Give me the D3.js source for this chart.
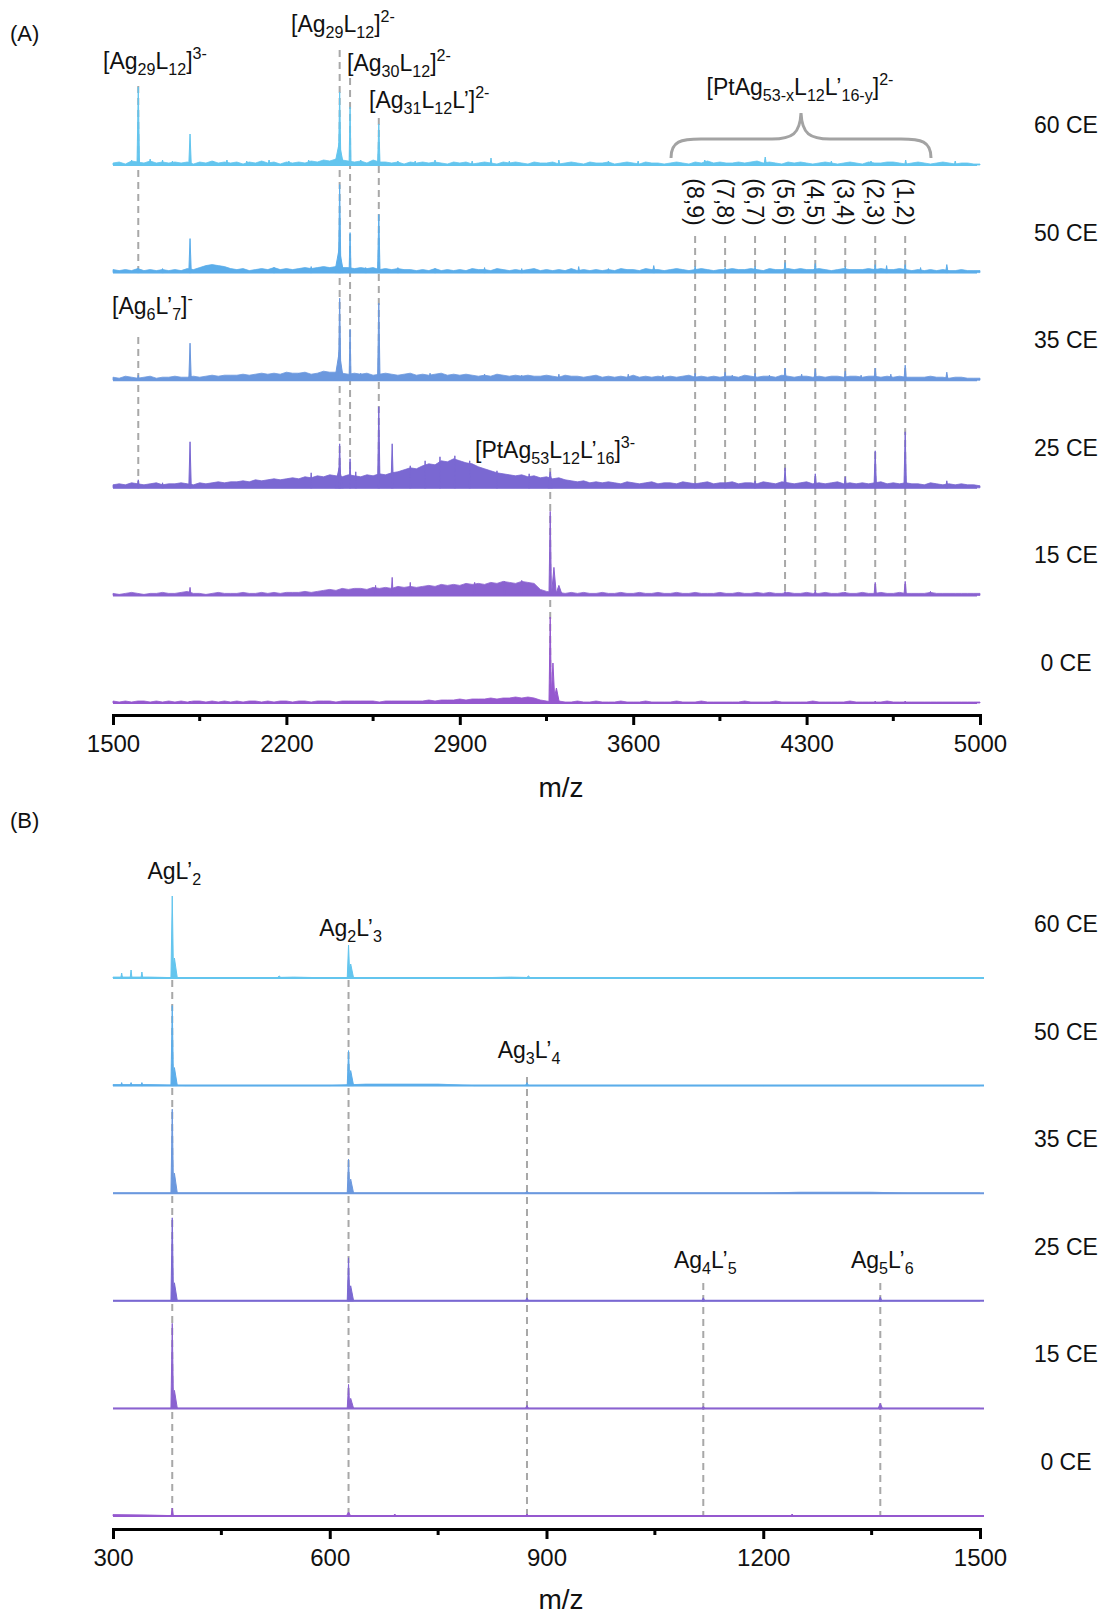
<!DOCTYPE html>
<html><head><meta charset="utf-8">
<script src="https://cdn.jsdelivr.net/npm/d3@7"></script>
<style>
body{margin:0;background:#fff;}
svg text{font-family:"Liberation Sans",Arial,Helvetica,sans-serif;fill:#111;}
</style></head>
<body><svg id="chart" width="1104" height="1614"></svg>
<script>
// ---------- DATA ----------
const ceLevels = ["60 CE","50 CE","35 CE","25 CE","15 CE","0 CE"];
const ceColors = ["#63c5ee","#5badea","#6b98de","#7a68d2","#8a62d0","#9558cf"];

// Panel A (m/z 1500-5000)
const mzTicksA = [1500,2200,2900,3600,4300,5000];
const mzMinorA = [1850,2550,3250,3950,4650];
// noise floor read every 25 m/z from 1500 to 5000 (relative intensity)
const noiseA60 = [2,3,1,4,3,2,4,2,3,2, 3,2,3,1,3,2,4,2,3,2, 3,1,3,2,4,2,3,1,3,2, 3,2,4,3,5,4,6,5,4,3,
  4,2,5,3,3,2,3,1,3,2, 3,2,3,2,1,3,2,3,1,2, 3,2,1,3,2,3,2,1,3,2, 2,3,1,2,3,2,1,3,2,2,
  3,1,2,3,2,1,3,2,2,1, 2,3,2,1,3,2,4,2,3,2, 2,3,2,3,4,2,3,2,1,3, 2,3,2,1,2,3,2,1,2,3,
  2,1,3,2,2,3,3,2,1,2, 3,2,1,2,3,2,1,2,2,1, 1];
const noiseA50 = [3,2,3,2,4,2,3,2,3,2, 3,2,4,3,5,7,8,7,6,4, 3,4,2,3,4,3,5,3,4,3, 4,5,4,5,6,5,6,5,5,4,
  5,4,5,3,4,3,4,3,3,2, 3,2,4,2,3,2,3,2,4,3, 3,2,4,3,2,3,2,3,4,2, 3,2,3,2,4,2,3,2,3,2,
  3,2,4,3,3,2,4,3,3,2, 3,4,3,2,3,4,3,2,3,3, 4,3,3,4,3,2,4,3,3,4, 3,4,3,3,4,3,2,3,4,3,
  3,3,4,3,4,3,3,4,3,2, 3,2,3,2,3,2,2,3,2,2, 2];
const noiseA35 = [3,2,4,3,2,3,4,2,3,3, 4,3,3,4,3,4,5,4,5,5, 5,6,5,6,7,6,7,6,8,7, 7,8,6,7,9,8,8,7,6,7,
  6,7,5,6,7,6,5,6,7,5, 6,5,6,7,5,6,5,6,5,4, 5,4,6,5,4,5,4,5,4,4, 5,4,3,5,4,4,3,4,5,3,
  4,3,4,3,5,3,4,3,4,3, 4,3,4,5,3,4,3,4,3,4, 4,3,5,4,3,4,4,3,5,4, 3,4,4,3,4,3,4,4,3,4,
  4,3,4,4,3,4,3,4,3,3, 3,3,4,3,3,2,3,3,2,2, 2];
const noiseA25 = [3,4,3,5,4,3,4,5,3,4, 4,5,4,3,5,4,5,6,5,6, 6,7,6,8,7,8,9,8,9,10, 9,11,10,12,11,13,12,11,13,12,
  11,13,12,14,13,15,16,18,20,19, 22,24,23,27,26,29,27,25,24,21, 19,17,15,14,13,12,13,11,12,10, 11,9,10,8,7,6,7,5,6,5,
  6,5,4,6,5,4,5,6,4,5, 5,4,6,5,4,5,6,4,5,5, 6,4,5,5,4,6,5,4,6,5, 4,5,6,4,5,4,5,6,4,5,
  4,5,4,5,6,4,5,4,5,4, 4,3,5,4,3,4,3,4,3,3, 2];
const noiseA15 = [2,1,2,3,2,1,2,2,3,2, 2,3,4,2,2,1,2,3,2,2, 2,3,2,2,3,2,3,2,3,3, 3,4,3,4,5,6,5,7,6,7,
  7,6,8,7,8,7,9,8,9,8, 9,10,9,11,10,11,10,12,11,12, 11,13,12,14,13,12,14,13,12,6, 4,3,3,2,3,2,3,2,2,3,
  2,2,3,2,2,3,2,2,3,2, 2,3,2,2,3,2,2,2,3,2, 2,3,2,2,3,2,3,2,2,3, 2,2,3,2,2,3,2,2,3,2,
  2,3,2,2,3,2,2,3,2,2, 2,2,3,2,2,2,2,2,2,2, 2];
const noiseA0  = [2,1,2,1,2,2,1,2,1,2, 1,2,1,2,2,1,2,1,2,1, 2,1,2,2,1,2,1,2,2,1, 2,2,1,2,2,2,1,2,2,2,
  2,2,2,1,2,2,2,2,2,2, 2,3,2,3,3,3,4,3,4,4, 4,5,4,5,5,6,5,6,5,3, 2,1,2,1,1,2,1,1,2,1,
  1,1,2,1,1,1,2,1,1,1, 1,2,1,1,1,2,1,1,1,1, 1,1,2,1,1,1,1,2,1,1, 1,1,1,2,1,1,1,1,1,2,
  1,1,1,1,1,2,1,1,1,1, 1,1,1,1,1,1,1,1,1,1, 1];
// peaks: [m/z, relative intensity, half width in m/z]
const peaksA60 = [[1575,5,4],[1602,78,5],[1650,6,4],[1700,5,4],[1740,4,4],[1811,31,5],[1905,4,4],[1960,5,4],[2040,4,4],[2130,5,4],[2210,4,4],[2290,5,4],[2350,4,4],[2413,22,18],[2415,73,5],[2457,58,4],[2500,5,4],[2540,4,4],[2573,41,5],[2650,4,4],[2720,4,4],[2800,5,4],[2950,4,4],[3026,7,4],[3100,4,4],[3300,5,4],[3500,4,4],[3620,4,4],[3889,5,5],[4133,8,5],[4400,4,4],[4560,4,4],[4700,5,4],[4900,4,4]];
const peaksA50 = [[1602,4,4],[1700,4,4],[1811,34,5],[2150,5,4],[2300,6,4],[2413,24,18],[2415,88,5],[2457,40,4],[2520,5,4],[2573,58,5],[2650,5,4],[2800,4,4],[3000,5,4],[3150,4,4],[3380,6,4],[3500,4,4],[3683,7,5],[3850,6,5],[3971,5,5],[4092,6,5],[4213,10,5],[4335,9,5],[4456,6,5],[4577,8,5],[4623,7,4],[4698,8,5],[4760,5,4],[4866,8,5]];
const peaksA35 = [[1602,5,4],[1811,37,5],[2100,6,4],[2250,7,4],[2413,28,18],[2415,82,5],[2457,51,4],[2500,7,4],[2573,77,5],[2700,6,4],[2780,7,4],[3000,6,4],[3150,5,4],[3300,6,4],[3580,6,4],[3720,5,4],[3850,7,5],[3971,8,5],[4000,5,4],[4092,7,5],[4150,5,4],[4213,12,5],[4280,6,4],[4335,11,5],[4456,9,5],[4520,5,4],[4577,12,5],[4640,6,4],[4698,15,5],[4866,8,5]];
const peaksA25 = [[1602,8,4],[1700,5,4],[1811,46,5],[2300,15,4],[2413,20,18],[2415,44,5],[2457,29,4],[2480,16,4],[2573,81,5],[2627,44,5],[2700,22,4],[2760,27,4],[2820,31,4],[2880,32,4],[2940,27,4],[3050,17,4],[3180,14,4],[3265,16,10],[3850,5,5],[3971,5,5],[4092,7,5],[4213,20,5],[4335,14,5],[4456,11,5],[4577,37,5],[4698,56,5],[4866,7,5]];
const peaksA15 = [[1811,8,4],[2560,10,4],[2627,18,4],[2700,13,4],[2960,13,4],[3080,14,4],[3150,15,4],[3265,84,5],[3280,28,10],[3300,10,14],[4213,4,5],[4335,5,5],[4456,3,5],[4577,13,5],[4698,14,5],[4800,4,4]];
const peaksA0  = [[1811,2,4],[3265,86,5],[3276,40,8],[3290,15,12],[4577,2,4],[4698,2,4]];
// PtAg53-x L12 L'16-y series positions, (1,2) ... (8,9)
const seriesMz = [4698,4577,4456,4335,4213,4092,3971,3850];
const seriesTags = ["(1,2)","(2,3)","(3,4)","(4,5)","(5,6)","(6,7)","(7,8)","(8,9)"];

// Panel B (m/z 300-1500)
const mzTicksB = [300,600,900,1200,1500];
const mzMinorB = [450,750,1050,1350];
const noiseB60 = [1,1,0,0,0,1,0,0,0,0, 0,1,0,0,0,0,0,0,0,0, 0,0,0,0,0];
const noiseB50 = [1,1,0,0,0,0,0,1.5,1.5,1.5, 0,0,0,0,0,0,0,0,0,0, 0,0,0,0,0];
const noiseB35 = [0,0,0,0,0,0,0,0,0,0, 0,0,0,0,0,0,0,0,0,1, 1,1,0,0,0];
const noiseB25 = [0,0,0,0,0,0,0,0,0,0, 0,0,0,0,0,0,0,0,0,0, 0,0,0,0,0];
const noiseB15 = [0,0,0,0,0,0,0,0,0,0, 0,0,0,0,0,0,0,0,0,0, 0,0,0,0,0];
const noiseB0  = [1.5,1,0,0,0,0,0,0,0,0, 0,0,0,0,0,0,0,0,0,0, 0,0,0,0,0];
const peaksB60 = [[312,5,1.2],[325,8,1.2],[340,6,1.2],[382,82,1.8],[385,20,4],[530,2,3],[626,33,1.8],[629,14,4],[875,2,3]];
const peaksB50 = [[312,3,1.2],[325,3,1.2],[340,3,1.2],[382,80,1.8],[385,18,4],[626,35,1.8],[629,15,4],[873,3,2]];
const peaksB35 = [[382,84,1.8],[385,20,4],[626,34,1.8],[629,14,4],[873,2,2]];
const peaksB25 = [[382,83,1.8],[385,18,4],[626,43,1.8],[629,15,4],[873,3,2],[1117,3,2],[1362,4,2]];
const peaksB15 = [[382,85,1.8],[385,18,4],[626,24,1.8],[629,10,4],[873,3,2],[1117,2,2],[1362,5,3]];
const peaksB0  = [[382,8,1.5],[626,4,3],[690,2,2],[873,2,2],[1240,2,2]];

// annotation texts: [text, style] style: "" normal, "sub", "sup"
const lblAg29_3 = [["[Ag",""],["29","sub"],["L",""],["12","sub"],["]",""],["3-","sup"]];
const lblAg29_2 = [["[Ag",""],["29","sub"],["L",""],["12","sub"],["]",""],["2-","sup"]];
const lblAg30_2 = [["[Ag",""],["30","sub"],["L",""],["12","sub"],["]",""],["2-","sup"]];
const lblAg31_2 = [["[Ag",""],["31","sub"],["L",""],["12","sub"],["L’]",""],["2-","sup"]];
const lblAg6 = [["[Ag",""],["6","sub"],["L’",""],["7","sub"],["]",""],["-","sup"]];
const lblPt3 = [["[PtAg",""],["53","sub"],["L",""],["12","sub"],["L’",""],["16","sub"],["]",""],["3-","sup"]];
const lblPtSeries = [["[PtAg",""],["53-x","sub"],["L",""],["12","sub"],["L’",""],["16-y","sub"],["]",""],["2-","sup"]];
const lblB = [
  [["AgL’",""],["2","sub"]],
  [["Ag",""],["2","sub"],["L’",""],["3","sub"]],
  [["Ag",""],["3","sub"],["L’",""],["4","sub"]],
  [["Ag",""],["4","sub"],["L’",""],["5","sub"]],
  [["Ag",""],["5","sub"],["L’",""],["6","sub"]]
];
const mzB = [382,626,873,1117,1362];

// ---------- DRAW ----------
const svg = d3.select("#chart");
const xA = d3.scaleLinear().domain([1500,5000]).range([113,980]);
const xB = d3.scaleLinear().domain([300,1500]).range([113,980]);
const rowA = d3.scalePoint().domain(ceLevels).range([165,703]);
const rowB = d3.scalePoint().domain(ceLevels).range([978,1516]);
const yI = d3.scaleLinear().domain([0,100]).range([0,100]);
const color = d3.scaleOrdinal().domain(ceLevels).range(ceColors);
const gridA = d3.range(1500, 5001, 25);
const gridB = d3.range(300, 1501, 50);

const FONT = '"Liberation Sans",Arial,Helvetica,sans-serif';
const gDash = svg.append("g");
const gSpec = svg.append("g");
const gText = svg.append("g");

function dash(x, y0, y1){
  gDash.append("line").attr("x1",x).attr("x2",x).attr("y1",y0).attr("y2",y1)
    .attr("stroke","#a8a8a8").attr("stroke-width",2).attr("stroke-dasharray","7,5");
}

function drawSpectrum(x, base, col, grid, noise, peaks, xEnd){
  const g = gSpec.append("g");
  g.append("path").datum(noise)
    .attr("d", d3.area().x((d,i)=>x(grid[i])).y0(base).y1(d=>base - yI(d)))
    .attr("fill", col).attr("stroke", col).attr("stroke-width", 0.8);
  const tri = d3.area().x(d=>x(d[0])).y0(base).y1(d=>base - yI(d[1]));
  peaks.forEach(p=>{
    g.append("path").datum([[p[0]-p[2],0],[p[0],p[1]],[p[0]+p[2],0]])
      .attr("d", tri).attr("fill", col).attr("stroke", col).attr("stroke-width",1).attr("stroke-linejoin","round");
  });
  g.append("line").attr("x1",x(grid[0])).attr("x2",xEnd).attr("y1",base).attr("y2",base)
    .attr("stroke",col).attr("stroke-width",2);
}

function rich(segs, x, y, size, anchor){
  const t = gText.append("text").attr("x",x).attr("y",y).attr("font-size",size)
    .attr("text-anchor",anchor||"start");
  let cur = 0;
  segs.forEach(([s,type])=>{
    const target = type==="sub" ? size*0.24 : type==="sup" ? -size*0.42 : 0;
    t.append("tspan").attr("dy", target-cur).attr("font-size", type ? size*0.7 : size).text(s);
    cur = target;
  });
  return t;
}

function drawAxis(x, y, ticks, minor, titleY){
  const g = svg.append("g").attr("transform",`translate(0,${y})`);
  g.call(d3.axisBottom(x).tickValues(ticks).tickFormat(d3.format("d"))
    .tickSize(10).tickSizeOuter(10).tickPadding(10));
  g.attr("font-size",24).attr("font-family",FONT);
  g.select(".domain").attr("stroke","#000").attr("stroke-width",3);
  g.selectAll(".tick line").attr("stroke","#000").attr("stroke-width",3);
  g.selectAll(".tick text").attr("fill","#111");
  g.selectAll(".minor").data(minor).enter().append("line")
    .attr("x1",d=>x(d)).attr("x2",d=>x(d)).attr("y1",0).attr("y2",6)
    .attr("stroke","#000").attr("stroke-width",3);
  svg.append("text").attr("x",561).attr("y",titleY).attr("text-anchor","middle")
    .attr("font-size",28).attr("font-family",FONT).text("m/z");
}

// ---- Panel A ----
const noiseA = [noiseA60,noiseA50,noiseA35,noiseA25,noiseA15,noiseA0];
const peaksA = [peaksA60,peaksA50,peaksA35,peaksA25,peaksA15,peaksA0];
dash(xA(1602), 86, rowA("50 CE"));
dash(xA(1602), 337, rowA("25 CE"));
dash(xA(2415), 50, rowA("25 CE"));
dash(xA(2457), 78, rowA("25 CE"));
dash(xA(2573), 118, rowA("25 CE"));
dash(xA(3265), 468, rowA("0 CE"));
seriesMz.forEach((m,i)=>{ dash(xA(m), 236, i<5 ? rowA("15 CE") : rowA("25 CE")); });

ceLevels.forEach((ce,i)=>{
  drawSpectrum(xA, rowA(ce), color(ce), gridA, noiseA[i], peaksA[i], 977);
  gText.append("text").attr("x",1066).attr("y",rowA(ce)-32).attr("text-anchor","middle")
    .attr("font-size",23).text(ce);
});
drawAxis(xA, 715, mzTicksA, mzMinorA, 797);

gText.append("text").attr("x",10).attr("y",41).attr("font-size",22).text("(A)");
rich(lblAg29_3, 103, 69, 23);
rich(lblAg29_2, 291, 32, 23);
rich(lblAg30_2, 347, 71, 23);
rich(lblAg31_2, 369, 108, 23);
rich(lblAg6, 112, 314, 23);
rich(lblPt3, 475, 458, 23);
rich(lblPtSeries, 800, 95, 23, "middle");
gText.append("path")
  .attr("d","M671,158 C671,141 681,139 701,139 L772,139 C792,139 800,134 801,113 C802,134 810,139 830,139 L901,139 C921,139 931,141 931,158")
  .attr("fill","none").attr("stroke","#a3a3a3").attr("stroke-width",3);
seriesMz.forEach((m,i)=>{
  const cx = xA(m), cy = 202;
  gText.append("text").attr("x",cx).attr("y",cy).attr("text-anchor","middle")
    .attr("dominant-baseline","central").attr("font-size",23)
    .attr("transform",`rotate(90,${cx},${cy})`).text(seriesTags[i]);
});

// ---- Panel B ----
const noiseB = [noiseB60,noiseB50,noiseB35,noiseB25,noiseB15,noiseB0];
const peaksB = [peaksB60,peaksB50,peaksB35,peaksB25,peaksB15,peaksB0];
dash(xB(382), rowB("60 CE")+2, rowB("0 CE"));
dash(xB(626), rowB("60 CE")+2, rowB("0 CE"));
dash(xB(873), 1077, rowB("0 CE"));
dash(xB(1117), 1283, rowB("0 CE"));
dash(xB(1362), 1283, rowB("0 CE"));

ceLevels.forEach((ce,i)=>{
  drawSpectrum(xB, rowB(ce), color(ce), gridB, noiseB[i], peaksB[i], 984);
  gText.append("text").attr("x",1066).attr("y",rowB(ce)-46).attr("text-anchor","middle")
    .attr("font-size",23).text(ce);
});
drawAxis(xB, 1529, mzTicksB, mzMinorB, 1609);

gText.append("text").attr("x",10).attr("y",828).attr("font-size",22).text("(B)");
const lblBy = [879, 936, 1058, 1268, 1268];
lblB.forEach((segs,i)=>{ rich(segs, xB(mzB[i])+2, lblBy[i], 23, "middle"); });
</script>
</body></html>
